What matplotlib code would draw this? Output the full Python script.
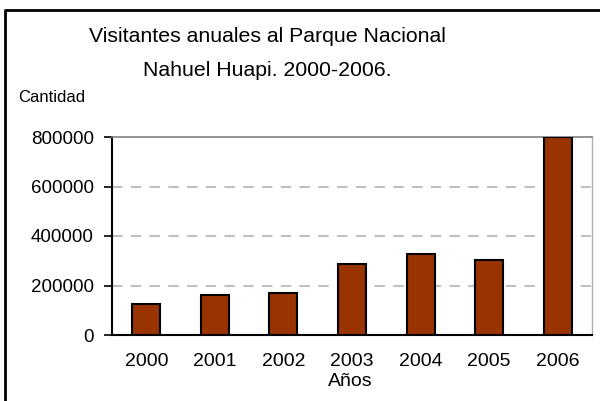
import matplotlib
matplotlib.use("Agg")
import matplotlib.pyplot as plt
from matplotlib.lines import Line2D

# datos
anios = ["2000", "2001", "2002", "2003", "2004", "2005", "2006"]
visitantes = [124000, 160000, 168000, 288000, 327000, 304000, 800000]
marcas_y = [0, 200000, 400000, 600000, 800000]

plt.rcParams["font.family"] = ["Liberation Sans", "DejaVu Sans"]

fig = plt.figure(figsize=(6.0, 4.01), dpi=100)
ax = fig.add_axes([112 / 600, 66 / 401, 480 / 600, 198 / 401])

x = range(len(anios))
ax.bar(x, visitantes, width=0.41, color="#993300", edgecolor="black", linewidth=1.5, zorder=3)

ax.set_xlim(-0.5, len(anios) - 0.5)
ax.set_ylim(0, 800000)
ax.set_yticks(marcas_y)
ax.set_yticklabels([str(v) for v in marcas_y], fontsize=13.5)
ax.set_xticks(list(x))
ax.set_xticklabels(anios, fontsize=14)
ax.tick_params(axis="x", length=0, pad=13)
ax.tick_params(axis="y", length=6, width=1.2, pad=7, direction="out")

# lineas de cuadricula discontinuas
for v in marcas_y[1:-1]:
    ax.axhline(v, color="#c0c0c0", linestyle=(0, (5, 4)), linewidth=1.5, zorder=1)

ax.spines["left"].set_linewidth(1.5)
ax.spines["bottom"].set_linewidth(1.5)
ax.spines["top"].set_color("#808080")
ax.spines["right"].set_color("#b0b0b0")
ax.spines["top"].set_linewidth(1.2)
ax.spines["right"].set_linewidth(1.0)

# titulos y etiquetas
fig.text(267 / 600, 1 - 36 / 401, "Visitantes anuales al Parque Nacional", ha="center", va="center", fontsize=15.3)
fig.text(267 / 600, 1 - 70 / 401, "Nahuel Huapi. 2000-2006.", ha="center", va="center", fontsize=15.3)
fig.text(18 / 600, 1 - 98 / 401, "Cantidad", ha="left", va="center", fontsize=12)
fig.text(350 / 600, 1 - 382 / 401, "Años", ha="center", va="center", fontsize=14)

# marco exterior
fig.add_artist(Line2D([5 / 600, 5 / 600, 1.0], [0.0, 1 - 10 / 401, 1 - 10 / 401],
                      transform=fig.transFigure, color="black", linewidth=2))

fig.savefig("out.png", dpi=100, facecolor="white")
